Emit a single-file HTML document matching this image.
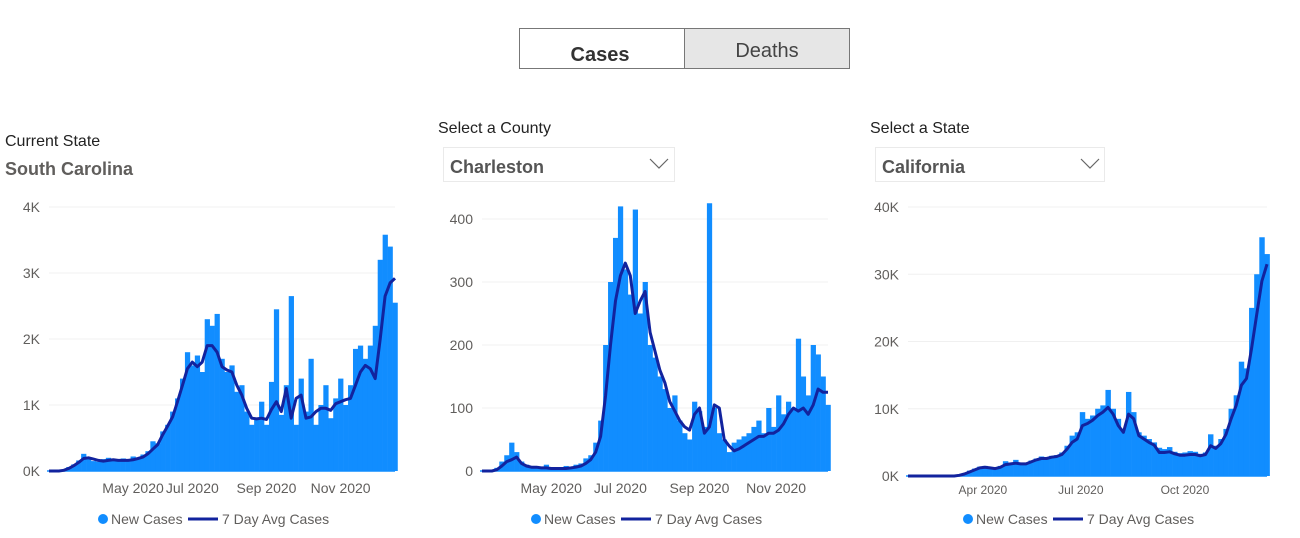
<!DOCTYPE html>
<html><head><meta charset="utf-8">
<style>
html,body{margin:0;padding:0;background:#fff;width:1300px;height:538px;overflow:hidden;font-family:"Liberation Sans",sans-serif;}
svg{display:block}
</style></head>
<body>
<svg id="root" width="1300" height="538" viewBox="0 0 1300 538" xmlns="http://www.w3.org/2000/svg">
  <g>
    <rect x="519.5" y="28.5" width="165" height="40" fill="#fff" stroke="#777" stroke-width="1"/>
    <text x="600" y="61" text-anchor="middle" font-size="20" font-weight="bold" fill="#333">Cases</text>
  </g>
  <g>
    <rect x="684.5" y="28.5" width="165" height="40" fill="#e6e6e6" stroke="#777" stroke-width="1"/>
    <text x="767" y="57" text-anchor="middle" font-size="20" fill="#444">Deaths</text>
  </g>
  <text x="5" y="146" font-size="16" fill="#222">Current State</text>
  <text x="5" y="175" font-size="18" font-weight="bold" fill="#605e5c">South Carolina</text>
  <text x="438" y="133" font-size="16" fill="#222">Select a County</text>
  <g>
    <rect x="443.5" y="147.5" width="231" height="34" fill="#fff" stroke="#eaeaea"/>
    <text x="450" y="173" font-size="18" font-weight="bold" fill="#555">Charleston</text>
    <polyline points="650,159 659,168 668,159" fill="none" stroke="#666" stroke-width="1.2"/>
  </g>
  <text x="870" y="133" font-size="16" fill="#222">Select a State</text>
  <g>
    <rect x="875.5" y="147.5" width="229" height="34" fill="#fff" stroke="#eaeaea"/>
    <text x="882" y="173" font-size="18" font-weight="bold" fill="#555">California</text>
    <polyline points="1081,159 1090,168 1099,159" fill="none" stroke="#666" stroke-width="1.2"/>
  </g>
</svg>
<script>
// ---- Chart 1: South Carolina ----
const scNew = [0,0,0,20,60,100,160,260,190,150,140,180,200,160,150,190,170,220,200,250,300,450,420,600,700,900,1100,1400,1800,1600,1750,1500,2300,2200,2380,1700,1500,1600,1200,1300,900,700,800,1050,700,1350,2450,850,1300,2650,700,1400,900,1700,700,1000,1300,800,1100,1400,1000,1300,1850,1900,1700,1900,2200,3200,3580,3400,2550];
const scAvg = [0,0,0,10,40,80,130,190,200,180,160,150,160,170,160,160,160,170,190,210,260,330,400,550,680,820,1050,1300,1550,1650,1580,1650,1900,1900,1800,1580,1530,1500,1300,1150,950,800,790,800,780,930,1050,900,1250,800,1100,1150,800,820,900,950,950,920,1020,1050,1080,1100,1300,1500,1600,1550,1400,2000,2650,2850,2920];
const scYTicks = [0,1000,2000,3000,4000];
const scYLabels = ["0K","1K","2K","3K","4K"];
const scXTicks = [17,29,44,59];
const scXLabels = ["May 2020","Jul 2020","Sep 2020","Nov 2020"];
// ---- Chart 2: Charleston ----
const chNew = [0,0,2,5,15,25,45,30,15,10,8,8,6,10,5,6,5,8,6,10,12,20,25,45,80,200,300,370,420,320,280,415,250,300,200,180,150,130,100,120,80,60,50,110,95,70,425,100,60,50,30,45,50,55,60,70,80,60,100,70,120,90,110,100,210,150,120,200,185,150,105];
const chAvg = [0,0,0,2,8,15,18,22,12,8,6,6,5,5,4,4,4,4,5,6,8,12,18,30,55,120,200,270,310,330,310,250,270,285,220,190,160,140,110,95,80,70,65,90,100,60,70,105,100,50,40,32,35,40,45,50,55,55,60,60,65,75,90,100,95,100,90,105,130,125,125];
const chYTicks = [0,100,200,300,400];
const chYLabels = ["0","100","200","300","400"];
const chXTicks = [14,28,44,59.5];
const chXLabels = ["May 2020","Jul 2020","Sep 2020","Nov 2020"];
// ---- Chart 3: California ----
const caNew = [0,0,0,0,0,0,0,0,0,0,100,400,800,1100,1400,1500,1300,1200,1500,2200,2000,2400,1900,2000,2300,2600,2900,2700,3000,3100,3500,4500,6000,6500,9500,8500,9000,10000,10500,12800,10000,8500,7000,12500,9500,6500,6000,5500,5000,4200,4000,4300,3600,3400,3500,3700,3600,3300,3500,6200,4500,5500,7000,10000,12000,17000,16000,25000,30000,35500,33000];
const caAvg = [0,0,0,0,0,0,0,0,0,0,100,300,600,900,1200,1300,1200,1100,1300,1700,1800,1900,1800,1800,2100,2400,2600,2600,2800,2900,3200,4000,5000,5500,7500,7800,8300,9000,9500,10200,9200,7500,6500,9200,8500,6000,5500,5000,4600,3500,3500,3600,3300,3100,3100,3200,3200,3000,3200,4500,4100,4800,6200,8500,10500,13500,14500,19000,24000,29000,31500];
const caYTicks = [0,10000,20000,30000,40000];
const caYLabels = ["0K","10K","20K","30K","40K"];
const caXTicks = [14.6,33.7,54];
const caXLabels = ["Apr 2020","Jul 2020","Oct 2020"];

const NS = "http://www.w3.org/2000/svg";
const root = document.getElementById('root');
function mk(tag, attrs, parent){
  const e = document.createElementNS(NS, tag);
  for (const k in attrs) e.setAttribute(k, attrs[k]);
  parent.appendChild(e); return e;
}
function drawChart(cfg){
  const g = mk('g', {}, root);
  
  
  const n = cfg.bars.length;
  const yMax = cfg.yTicks[cfg.yTicks.length-1];
  const x = i => cfg.x0 + (cfg.x1 - cfg.x0) * i / (n - 1);
  const y = v => cfg.y0 - (cfg.y0 - cfg.yTop) * v / yMax;
  const step = (cfg.x1 - cfg.x0) / (n - 1);
  cfg.yTicks.forEach((t, k) => {
    if (k > 0) {
      const gl = mk('line', {x1:cfg.x0, x2:cfg.x1, y1:y(t), y2:y(t), stroke:'#f0f0f0', 'stroke-width':1}, g);
      
      
    }
    const tl = mk('text', {x:cfg.x0 - 9, y:y(t) + 5, 'text-anchor':'end', 'font-size':14, fill:'#605e5c'}, g);
    
    
    tl.textContent = cfg.yLabels[k];
  });
  cfg.xTicks.forEach((t, k) => {
    const tl = mk('text', {x:x(t), y:cfg.xLabelY, 'text-anchor':'middle', 'font-size':cfg.xFont, fill:'#605e5c'}, g);
    
    
    tl.textContent = cfg.xLabels[k];
  });
  cfg.bars.forEach((v, i) => {
    const top = y(v);
    const b = mk('rect', {x:x(i) - step/2, y:top, width:step + 0.3, height:cfg.y0 - top, fill:'#118DFF'}, g);
    
    
  });
  const axis = mk('line', {x1:cfg.x0 - 2, x2:cfg.x1, y1:cfg.y0, y2:cfg.y0, stroke:'#118DFF', 'stroke-width':1.5}, g);
  
  
  const pts = cfg.avg.map((v, i) => x(i).toFixed(1) + ',' + y(v).toFixed(1)).join(' ');
  const pl = mk('polyline', {points:pts, fill:'none', stroke:'#12239E', 'stroke-width':3, 'stroke-linejoin':'round'}, g);
  
  
  const lg = mk('g', {}, g);
  
  
  const L = cfg.legendX;
  const dot = mk('circle', {cx:L, cy:519, r:5, fill:'#118DFF'}, lg);
  
  
  const t1 = mk('text', {x:L + 8, y:524, 'font-size':14, fill:'#605e5c'}, lg);
  
  
  t1.textContent = 'New Cases';
  const ln = mk('line', {x1:L + 85, x2:L + 115, y1:519, y2:519, stroke:'#12239E', 'stroke-width':3}, lg);
  
  
  const t2 = mk('text', {x:L + 119, y:524, 'font-size':14, fill:'#605e5c'}, lg);
  
  
  t2.textContent = '7 Day Avg Cases';
}
drawChart({name:'south-carolina-chart', bars:scNew, avg:scAvg, yTicks:scYTicks, yLabels:scYLabels, xTicks:scXTicks, xLabels:scXLabels, x0:49, x1:395, y0:471, yTop:207, xLabelY:493, xFont:14, legendX:103});
drawChart({name:'charleston-chart', bars:chNew, avg:chAvg, yTicks:chYTicks, yLabels:chYLabels, xTicks:chXTicks, xLabels:chXLabels, x0:482, x1:828, y0:471, yTop:219, xLabelY:493, xFont:14, legendX:536});
drawChart({name:'california-chart', bars:caNew, avg:caAvg, yTicks:caYTicks, yLabels:caYLabels, xTicks:caXTicks, xLabels:caXLabels, x0:908, x1:1267, y0:476, yTop:207, xLabelY:494, xFont:12, legendX:968});
</script>
</body></html>
